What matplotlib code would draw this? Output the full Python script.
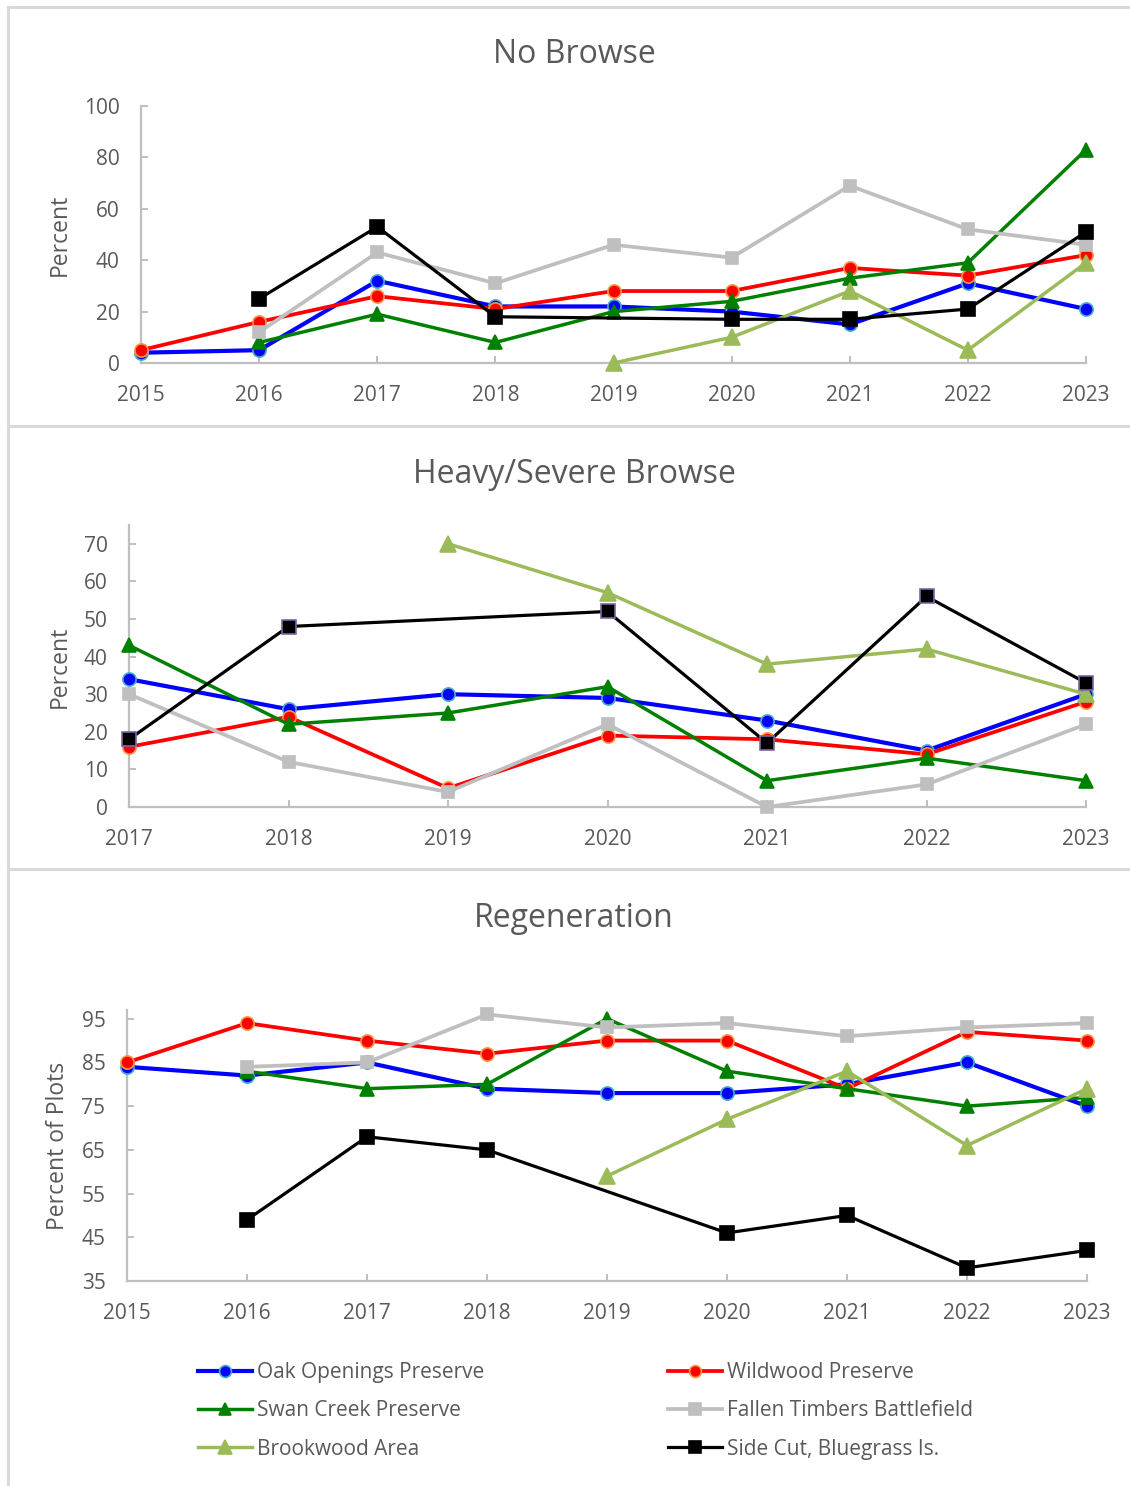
import matplotlib
matplotlib.use("Agg")
import matplotlib.pyplot as plt
from matplotlib.lines import Line2D

plt.rcParams['font.family'] = ['Open Sans', 'DejaVu Sans']

# ---- data (None = no survey that year) ----
years_a = [2015, 2016, 2017, 2018, 2019, 2020, 2021, 2022, 2023]
years_b = [2017, 2018, 2019, 2020, 2021, 2022, 2023]

site_names = ["Oak Openings Preserve", "Wildwood Preserve", "Swan Creek Preserve",
              "Fallen Timbers Battlefield", "Brookwood Area", "Side Cut, Bluegrass Is."]

no_browse_oak = [4, 5, 32, 22, 22, 20, 15, 31, 21]
no_browse_wild = [5, 16, 26, 21, 28, 28, 37, 34, 42]
no_browse_swan = [None, 8, 19, 8, 20, 24, 33, 39, 83]
no_browse_fallen = [None, 12, 43, 31, 46, 41, 69, 52, 46]
no_browse_brook = [None, None, None, None, 0, 10, 28, 5, 39]
no_browse_side = [None, 25, 53, 18, None, 17, 17, 21, 51]

heavy_oak = [34, 26, 30, 29, 23, 15, 30]
heavy_wild = [16, 24, 5, 19, 18, 14, 28]
heavy_swan = [43, 22, 25, 32, 7, 13, 7]
heavy_fallen = [30, 12, 4, 22, 0, 6, 22]
heavy_brook = [None, None, 70, 57, 38, 42, 30]
heavy_side = [18, 48, None, 52, 17, 56, 33]

regen_oak = [84, 82, 85, 79, 78, 78, 80, 85, 75]
regen_wild = [85, 94, 90, 87, 90, 90, 79, 92, 90]
regen_swan = [None, 83, 79, 80, 95, 83, 79, 75, 77]
regen_fallen = [None, 84, 85, 96, 93, 94, 91, 93, 94]
regen_brook = [None, None, None, None, 59, 72, 83, 66, 79]
regen_side = [None, 49, 68, 65, None, 46, 50, 38, 42]

# ---- styles per site ----
styles = [
    dict(color='#0000FF', marker='o', mec='#4BACC6', ms=9.5, lw=3.0),
    dict(color='#FF0000', marker='o', mec='#F79646', ms=9.5, lw=2.7),
    dict(color='#008000', marker='^', mec='#008000', ms=9.5, lw=2.5),
    dict(color='#BFBFBF', marker='s', mec='#BFBFBF', ms=9, lw=2.7),
    dict(color='#9BBB59', marker='^', mec='#9BBB59', ms=11, lw=2.5),
    dict(color='#000000', marker='s', mec='#000000', ms=9.5, lw=2.3),
]

W, H = 1130, 1486
fig = plt.figure(figsize=(W / 100, H / 100), dpi=100)
txt = '#595959'
axis_col = '#BFBFBF'


def px_axes(x0, x1, ytop, ybot):
    return fig.add_axes([x0 / W, 1 - ybot / H, (x1 - x0) / W, (ybot - ytop) / H])


def draw_panel(ax, years, series, ylim, yticks, edge_override=None):
    for i, vals in enumerate(series):
        xs = [x for x, v in zip(years, vals) if v is not None]
        ys = [v for v in vals if v is not None]
        st = dict(styles[i])
        if edge_override and i in edge_override:
            st['mec'] = edge_override[i]
        ax.plot(xs, ys, color=st['color'], lw=st['lw'], marker=st['marker'],
                ms=st['ms'], mfc=st['color'], mec=st['mec'], mew=1.2,
                clip_on=False, zorder=3 + i)
    ax.set_xlim(years[0], years[-1])
    ax.set_ylim(*ylim)
    ax.set_xticks(years)
    ax.set_yticks(yticks)
    for s in ['top', 'right']:
        ax.spines[s].set_visible(False)
    for s in ['left', 'bottom']:
        ax.spines[s].set_color(axis_col)
        ax.spines[s].set_linewidth(1.6)
    ax.tick_params(axis='x', direction='in', length=5, width=1.4, color=axis_col,
                   labelsize=15, labelcolor=txt, pad=16)
    ax.tick_params(axis='y', direction='in', length=5, width=1.4, color=axis_col,
                   labelsize=15, labelcolor=txt, pad=15.5)
    ax.patch.set_alpha(0)


# panel 1: No Browse
ax1 = px_axes(141, 1086, 106, 363)
draw_panel(ax1, years_a,
           [no_browse_oak, no_browse_wild, no_browse_swan, no_browse_fallen,
            no_browse_brook, no_browse_side],
           (0, 100), range(0, 101, 20))

# panel 2: Heavy/Severe Browse
ax2 = px_axes(129, 1086, 525, 807)
draw_panel(ax2, years_b,
           [heavy_oak, heavy_wild, heavy_swan, heavy_fallen, heavy_brook, heavy_side],
           (0, 75), range(0, 71, 10), edge_override={5: '#8064A2'})

# panel 3: Regeneration
ax3 = px_axes(127, 1087, 1010, 1281)
draw_panel(ax3, years_a,
           [regen_oak, regen_wild, regen_swan, regen_fallen, regen_brook, regen_side],
           (35, 97), range(35, 96, 10))

# titles and y labels
fig.text(574 / W, 1 - 63 / H, "No Browse", ha='center', va='baseline', fontsize=23, color=txt)
fig.text(574 / W, 1 - 483 / H, "Heavy/Severe Browse", ha='center', va='baseline', fontsize=23, color=txt)
fig.text(574 / W, 1 - 927 / H, "Regeneration", ha='center', va='baseline', fontsize=23, color=txt)
fig.text(60 / W, 1 - 235 / H, "Percent", rotation=90, ha='center', va='center', fontsize=16.5, color=txt)
fig.text(60 / W, 1 - 667 / H, "Percent", rotation=90, ha='center', va='center', fontsize=16.5, color=txt)
fig.text(58 / W, 1 - 1146 / H, "Percent of Plots", rotation=90, ha='center', va='center', fontsize=16.5, color=txt)

# chart area borders
frame = '#D9D9D9'
for y in [7, 426, 869]:
    fig.add_artist(Line2D([8 / W, 1], [1 - y / H, 1 - y / H], color=frame, lw=2.2))
fig.add_artist(Line2D([8 / W, 8 / W], [0, 1 - 7 / H], color=frame, lw=2.2))

# legend (column-major order)
handles = []
for i in [0, 2, 4, 1, 3, 5]:
    st = styles[i]
    handles.append(Line2D([], [], color=st['color'], lw=st['lw'], marker=st['marker'],
                          ms=st['ms'] * 0.9, mfc=st['color'], mec=st['mec'], mew=1.2,
                          label=site_names[i]))
fig.legend(handles=handles, loc='upper left', bbox_to_anchor=(198 / W, 1 - 1362 / H),
           ncol=2, frameon=False, fontsize=15, labelcolor=txt, handlelength=2.6,
           handletextpad=0.25, columnspacing=8.8, labelspacing=0.83,
           borderpad=0, borderaxespad=0)

fig.savefig("out.png", dpi=100)
